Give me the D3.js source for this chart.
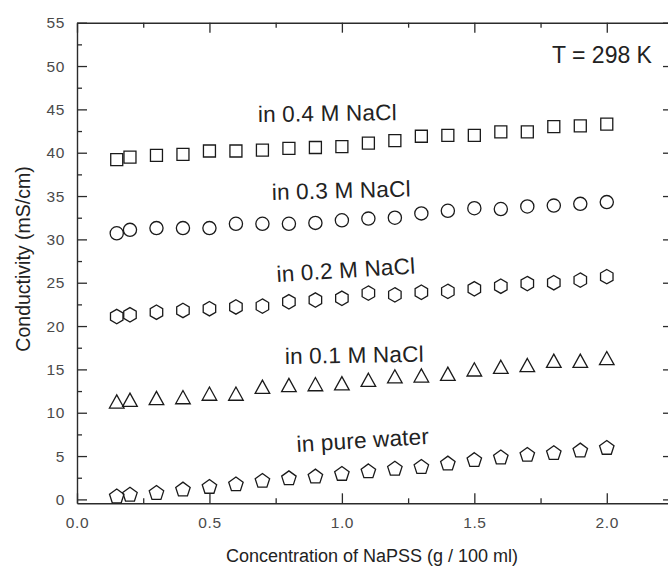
<!DOCTYPE html>
<html>
<head>
<meta charset="utf-8">
<script src="https://cdn.jsdelivr.net/npm/d3@7"></script>
<style>
  html, body { margin: 0; padding: 0; background: #fff; }
  svg { display: block; font-family: Arial, "Liberation Sans", sans-serif; }
</style>
</head>
<body>
<svg id="chart" width="668" height="569"></svg>
<script>
// NaPSS concentration (g / 100 ml)
const concentration = [0.15, 0.2, 0.3, 0.4, 0.5, 0.6, 0.7, 0.8, 0.9, 1.0,
                       1.1, 1.2, 1.3, 1.4, 1.5, 1.6, 1.7, 1.8, 1.9, 2.0];

// Conductivity (mS/cm) for each medium
const nacl04 = [39.2, 39.5, 39.7, 39.8, 40.2, 40.2, 40.3, 40.5, 40.6, 40.7,
                41.1, 41.4, 41.9, 42.0, 42.0, 42.4, 42.4, 43.0, 43.1, 43.3];
const nacl03 = [30.7, 31.1, 31.3, 31.3, 31.3, 31.8, 31.8, 31.8, 31.9, 32.2,
                32.4, 32.5, 33.0, 33.3, 33.6, 33.5, 33.8, 33.9, 34.1, 34.3];
const nacl02 = [21.1, 21.3, 21.6, 21.8, 22.0, 22.2, 22.3, 22.8, 23.0, 23.2,
                23.8, 23.6, 23.9, 24.0, 24.3, 24.6, 24.9, 25.0, 25.3, 25.7];
const nacl01 = [11.3, 11.5, 11.7, 11.8, 12.2, 12.2, 13.0, 13.2, 13.3, 13.4,
                13.8, 14.2, 14.3, 14.5, 15.0, 15.3, 15.5, 16.0, 16.0, 16.3];
const pureWater = [0.4, 0.6, 0.8, 1.2, 1.5, 1.8, 2.2, 2.5, 2.7, 3.0,
                   3.3, 3.6, 3.8, 4.2, 4.6, 4.9, 5.2, 5.4, 5.7, 6.0];

const seriesNames = ["in 0.4 M NaCl", "in 0.3 M NaCl", "in 0.2 M NaCl", "in 0.1 M NaCl", "in pure water"];
const seriesMarkers = ["square", "circle", "hexagon", "triangle", "pentagon"];
const seriesValues = [nacl04, nacl03, nacl02, nacl01, pureWater];

const xTicks = [0.0, 0.5, 1.0, 1.5, 2.0];
const yTicks = [0, 5, 10, 15, 20, 25, 30, 35, 40, 45, 50, 55];
const xTitle = "Concentration of NaPSS (g / 100 ml)";
const yTitle = "Conductivity (mS/cm)";
const tempNote = "T = 298 K";

// ---- layout ----
const svg = d3.select("#chart");
const W = 668, H = 569;
const plotL = 77, plotR = 673, plotT = 22.7, plotB = 503.3;
const ink = "#2b2b2b";

const x = d3.scaleLinear().domain([0, 2.25]).range([plotL, plotR]);
const y = d3.scaleLinear().domain([-0.45, 55]).range([plotB, plotT]);

svg.append("rect").attr("width", W).attr("height", H).attr("fill", "#fff");

// minor tick positions
const xMinor = d3.range(0.25, 2.25, 0.5);
const yMinor = d3.range(2.5, 55, 5);

function styleAxis(g) {
  g.selectAll("path.domain").attr("stroke", ink).attr("stroke-width", 1.4);
  g.selectAll(".tick line").attr("stroke", ink).attr("stroke-width", 1.3);
  g.selectAll(".tick text")
    .attr("fill", "#4a4a4a")
    .style("font-size", "15.5px")
    .style("letter-spacing", "0.6px");
}

// bottom axis (inward ticks)
svg.append("g").attr("transform", `translate(0,${plotB})`)
  .call(d3.axisBottom(x).tickValues(xTicks).tickFormat(d3.format(".1f"))
        .tickSize(-10).tickSizeOuter(0).tickPadding(14))
  .call(styleAxis);
svg.append("g").attr("transform", `translate(0,${plotB})`)
  .call(d3.axisBottom(x).tickValues(xMinor).tickFormat("").tickSize(-5).tickSizeOuter(0))
  .call(g => g.select("path.domain").remove())
  .call(styleAxis);

// top axis (inward ticks, no labels)
svg.append("g").attr("transform", `translate(0,${plotT})`)
  .call(d3.axisTop(x).tickValues(xTicks).tickFormat("").tickSize(-10).tickSizeOuter(0))
  .call(styleAxis);
svg.append("g").attr("transform", `translate(0,${plotT})`)
  .call(d3.axisTop(x).tickValues(xMinor).tickFormat("").tickSize(-5).tickSizeOuter(0))
  .call(g => g.select("path.domain").remove())
  .call(styleAxis);

// left axis (inward ticks)
svg.append("g").attr("transform", `translate(${plotL},0)`)
  .call(d3.axisLeft(y).tickValues(yTicks).tickFormat(d3.format("d"))
        .tickSize(-10).tickSizeOuter(0).tickPadding(12))
  .call(styleAxis);
svg.append("g").attr("transform", `translate(${plotL},0)`)
  .call(d3.axisLeft(y).tickValues(yMinor).tickFormat("").tickSize(-5).tickSizeOuter(0))
  .call(g => g.select("path.domain").remove())
  .call(styleAxis);

// right axis (inward ticks, no labels)
svg.append("g").attr("transform", `translate(${plotR},0)`)
  .call(d3.axisRight(y).tickValues(yTicks).tickFormat("").tickSize(-10).tickSizeOuter(0))
  .call(styleAxis);
svg.append("g").attr("transform", `translate(${plotR},0)`)
  .call(d3.axisRight(y).tickValues(yMinor).tickFormat("").tickSize(-5).tickSizeOuter(0))
  .call(g => g.select("path.domain").remove())
  .call(styleAxis);

// ---- hollow markers, each centred on its bounding box ----
function polygonPath(n, r, rot) {
  const pts = d3.range(n).map(i => {
    const a = rot + i * 2 * Math.PI / n;
    return [r * Math.cos(a), r * Math.sin(a)];
  });
  const ys = pts.map(p => p[1]);
  const cy = (d3.min(ys) + d3.max(ys)) / 2;
  return "M" + pts.map(p => `${p[0].toFixed(2)},${(p[1] - cy).toFixed(2)}`).join("L") + "Z";
}
const markerPath = {
  square: "M-6,-6H6V6H-6Z",
  circle: d3.symbol(d3.symbolCircle, Math.PI * 6.6 * 6.6)(),
  hexagon: polygonPath(6, 7.2, -Math.PI / 2),
  triangle: "M0,-6.6L7.3,6.6L-7.3,6.6Z",
  pentagon: polygonPath(5, 7.6, -Math.PI / 2)
};

seriesValues.forEach((vals, si) => {
  const pts = concentration.map((c, i) => ({ c, v: vals[i] }));
  svg.append("g")
    .selectAll("path")
    .data(pts)
    .join("path")
    .attr("d", markerPath[seriesMarkers[si]])
    .attr("transform", d => `translate(${x(d.c)},${y(d.v)})`)
    .attr("fill", "none")
    .attr("stroke", "#1a1a1a")
    .attr("stroke-width", 1.3);
});

// ---- series labels ----
const labelPos = [
  { x: 258, y: 122, rot: -0.8 },
  { x: 272, y: 200, rot: -1.5 },
  { x: 277, y: 282, rot: -3.5 },
  { x: 285, y: 364, rot: -1.0 },
  { x: 297, y: 452, rot: -3.5 }
];
seriesNames.forEach((name, i) => {
  const p = labelPos[i];
  svg.append("text")
    .attr("transform", `translate(${p.x},${p.y}) rotate(${p.rot})`)
    .attr("fill", "#222")
    .style("font-size", "22.5px")
    .style("letter-spacing", "0.2px")
    .text(name);
});

svg.append("text")
  .attr("x", 552).attr("y", 63)
  .attr("fill", "#222")
  .style("font-size", "23px")
  .text(tempNote);

// ---- axis titles ----
svg.append("text")
  .attr("x", 372).attr("y", 562)
  .attr("text-anchor", "middle")
  .attr("fill", "#222")
  .style("font-size", "18px")
  .text(xTitle);

svg.append("text")
  .attr("transform", "translate(30,259) rotate(-90)")
  .attr("text-anchor", "middle")
  .attr("fill", "#222")
  .style("font-size", "19.5px")
  .text(yTitle);
</script>
</body>
</html>
